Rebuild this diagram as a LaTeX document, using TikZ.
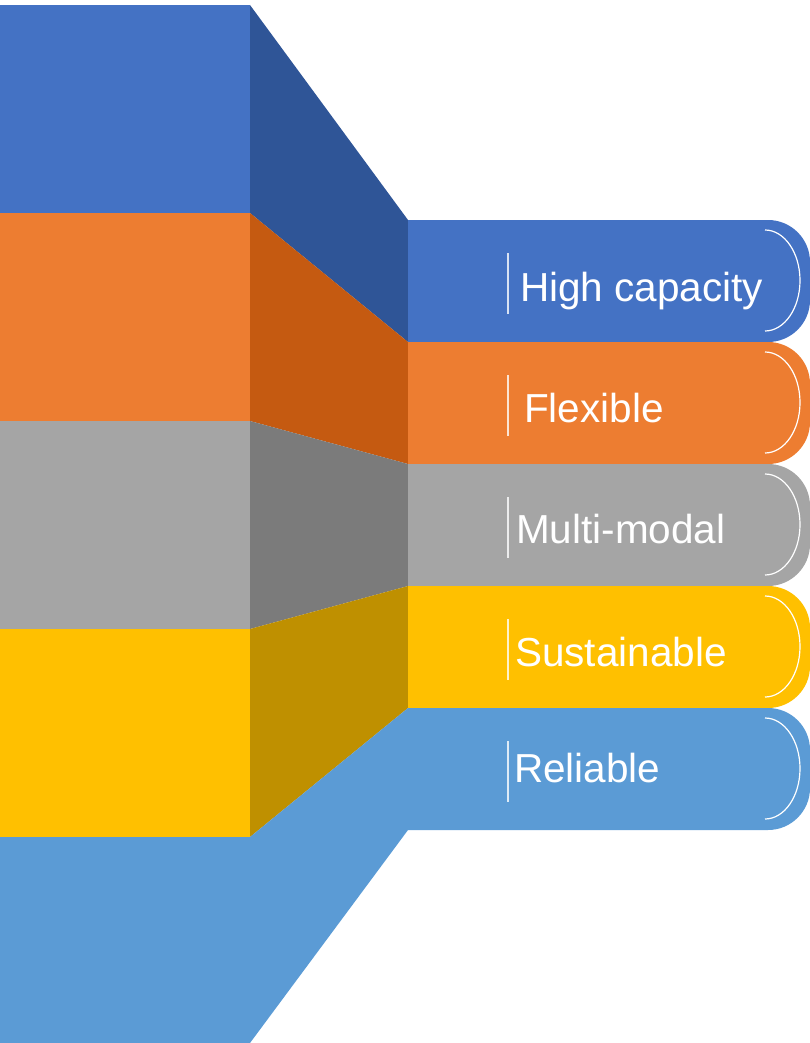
\documentclass[tikz,border=0pt]{standalone}
\usepackage{fontspec}
\setmainfont{Liberation Sans}

\definecolor{capblue}{HTML}{4472C4}
\definecolor{capbluedark}{HTML}{2F5597}
\definecolor{flexorange}{HTML}{ED7D31}
\definecolor{flexorangedark}{HTML}{C55A11}
\definecolor{modalgray}{HTML}{A5A5A5}
\definecolor{modalgraydark}{HTML}{7B7B7B}
\definecolor{sustyellow}{HTML}{FFC000}
\definecolor{sustyellowdark}{HTML}{BF9000}
\definecolor{relblue}{HTML}{5B9BD5}

\tikzset{
  tablabel/.style={anchor=base west,inner sep=0pt,text=white,font=\fontsize{40.5}{48}\selectfont},
  tabbar/.style={white,opacity=0.8,line width=1.2pt},
  tabarc/.style={white,line width=1.2pt}
}

\begin{document}
\begin{tikzpicture}[x=1pt,y=1pt]
    \useasboundingbox (0,0) rectangle (809,-1043);
    % left column
    \fill[capblue] (0,-5) rectangle (250,-213);
    \fill[flexorange] (0,-213) rectangle (250,-421);
    \fill[modalgray] (0,-421) rectangle (250,-629);
    \fill[sustyellow] (0,-629) rectangle (250,-837);
    \fill[relblue] (0,-837) rectangle (250,-1043);
    % slanted links
    \fill[capbluedark] (250,-5) -- (408,-220) -- (408,-342) -- (250,-213) -- cycle;
    \fill[flexorangedark] (250,-213) -- (408,-342) -- (408,-464) -- (250,-421) -- cycle;
    \fill[modalgraydark] (250,-421) -- (408,-464) -- (408,-586) -- (250,-629) -- cycle;
    \fill[sustyellowdark] (250,-629) -- (408,-586) -- (408,-708) -- (250,-837) -- cycle;
    \fill[relblue] (250,-837) -- (408,-708) -- (408,-830) -- (250,-1043) -- cycle;
    % tabs
    \fill[capblue] (408,-220) -- (768,-220) arc[start angle=90,end angle=0,radius=42] -- (810,-300) arc[start angle=0,end angle=-90,radius=42] -- (408,-342) -- cycle;
    \fill[flexorange] (408,-342) -- (768,-342) arc[start angle=90,end angle=0,radius=42] -- (810,-422) arc[start angle=0,end angle=-90,radius=42] -- (408,-464) -- cycle;
    \fill[modalgray] (408,-464) -- (768,-464) arc[start angle=90,end angle=0,radius=42] -- (810,-544) arc[start angle=0,end angle=-90,radius=42] -- (408,-586) -- cycle;
    \fill[sustyellow] (408,-586) -- (768,-586) arc[start angle=90,end angle=0,radius=42] -- (810,-666) arc[start angle=0,end angle=-90,radius=42] -- (408,-708) -- cycle;
    \fill[relblue] (408,-708) -- (768,-708) arc[start angle=90,end angle=0,radius=42] -- (810,-788) arc[start angle=0,end angle=-90,radius=42] -- (408,-830) -- cycle;
    % bars and arcs
    \draw[tabbar] (508,-253) -- (508,-314);
    \draw[tabbar] (508,-375) -- (508,-436);
    \draw[tabbar] (508,-497) -- (508,-558);
    \draw[tabbar] (508,-619) -- (508,-680);
    \draw[tabbar] (508,-741) -- (508,-802);
    \draw[tabarc] (765,-230) arc[start angle=90,end angle=-90,x radius=35,y radius=50.5];
    \draw[tabarc] (765,-352) arc[start angle=90,end angle=-90,x radius=35,y radius=50.5];
    \draw[tabarc] (765,-474) arc[start angle=90,end angle=-90,x radius=35,y radius=50.5];
    \draw[tabarc] (765,-596) arc[start angle=90,end angle=-90,x radius=35,y radius=50.5];
    \draw[tabarc] (765,-718) arc[start angle=90,end angle=-90,x radius=35,y radius=50.5];
    % labels
    \node[tablabel] (hicap) at (520,-301) {High capacity};
    \node[tablabel] (flex) at (524,-422) {Flexible};
    \node[tablabel] (multi) at (516,-543) {Multi-modal};
    \node[tablabel] (sust) at (515,-666) {Sustainable};
    \node[tablabel] (rel) at (514,-782) {Reliable};
\end{tikzpicture}
\end{document}
